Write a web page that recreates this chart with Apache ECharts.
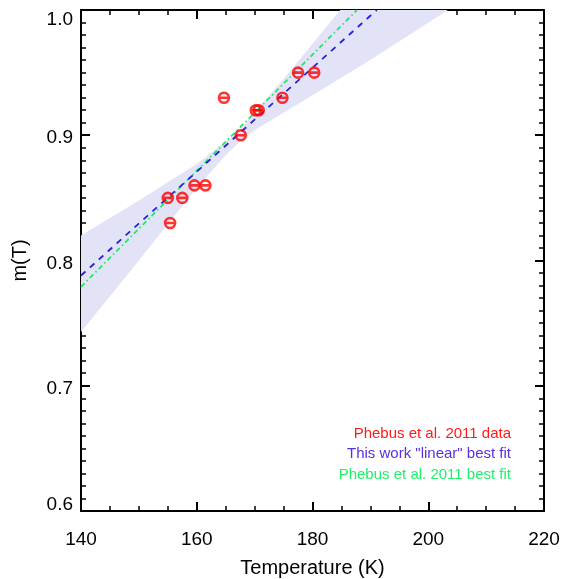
<!DOCTYPE html>
<html>
<head>
<meta charset="utf-8">
<script src="https://cdn.jsdelivr.net/npm/echarts@6/dist/echarts.min.js"></script>
<style>
  html, body { margin: 0; padding: 0; background: #fff; }
  #chart { width: 563px; height: 579px; }
</style>
</head>
<body>
<div id="chart"></div>
<script>
// measured points (Phebus et al. 2011)
const tempK = [155.0, 155.4, 157.5, 159.6, 161.5, 164.7, 167.6, 170.2, 170.7, 174.8, 177.5, 180.3];
const mValues = [0.85, 0.83, 0.85, 0.86, 0.86, 0.93, 0.90, 0.92, 0.92, 0.93, 0.95, 0.95];

// best-fit lines, end points
const linearFit = [[140, 0.788], [191.1, 1.0]];
const phebusFit = [[140, 0.779], [187.7, 1.0]];

// uncertainty band of the linear fit
const bandUpperT = [140, 150, 160, 165, 167, 170, 175, 180, 184.8];
const bandUpper = [0.820, 0.848, 0.877, 0.895, 0.902, 0.918, 0.945, 0.973, 1.0];
const bandLowerT = [140, 150, 160, 165, 167, 170, 175, 180, 190, 203.4];
const bandLower = [0.743, 0.800, 0.858, 0.884, 0.893, 0.904, 0.918, 0.932, 0.960, 1.0];

const xTicks = [140, 160, 180, 200, 220];
const yTicks = [0.6, 0.7, 0.8, 0.9, 1.0];

const legendItems = [
  { text: 'Phebus et al. 2011 data', color: '#ff1a1a' },
  { text: 'This work "linear" best fit', color: '#5a2fe0' },
  { text: 'Phebus et al. 2011 best fit', color: '#22f06a' }
];

const font = 'Liberation Sans, Arial, Helvetica, sans-serif';
const axisCol = '#000';

const chart = echarts.init(document.getElementById('chart'));

function tickAxis(extra) {
  return Object.assign({
    type: 'value',
    axisLine: { show: true, onZero: false, lineStyle: { color: axisCol, width: 2 } },
    axisTick: { show: true, inside: true, length: 9, lineStyle: { color: axisCol, width: 2 } },
    splitLine: { show: false },
    minorSplitLine: { show: false }
  }, extra);
}

// the end labels sit a little inside the frame, the others a touch low
function yLabel(v) {
  const s = v.toFixed(1);
  if (Math.abs(v - yTicks[yTicks.length - 1]) < 1e-6) return '{top|' + s + '}';
  if (Math.abs(v - yTicks[0]) < 1e-6) return '{bot|' + s + '}';
  return '{mid|' + s + '}';
}

const option = {
  animation: false,
  backgroundColor: '#fff',
  grid: { left: 81, right: 19, top: 10, bottom: 68, outerBoundsMode: 'none', containLabel: false },
  xAxis: [
    tickAxis({
      min: xTicks[0], max: xTicks[xTicks.length - 1], interval: 20,
      minorTick: { show: true, splitNumber: 4, length: 5, lineStyle: { color: axisCol, width: 1.5 } },
      name: 'Temperature (K)', nameLocation: 'middle', nameGap: 47,
      nameTextStyle: { fontFamily: font, fontSize: 20, color: '#000' },
      axisLabel: { fontFamily: font, fontSize: 19, color: '#000', margin: 19 }
    }),
    tickAxis({
      position: 'top',
      min: xTicks[0], max: xTicks[xTicks.length - 1], interval: 20,
      minorTick: { show: true, splitNumber: 4, length: 5, lineStyle: { color: axisCol, width: 1.5 } },
      axisLabel: { show: false }
    })
  ],
  yAxis: [
    tickAxis({
      min: yTicks[0], max: yTicks[yTicks.length - 1], interval: 0.1,
      minorTick: { show: true, splitNumber: 10, length: 5, lineStyle: { color: axisCol, width: 1.5 } },
      name: 'm(T)', nameLocation: 'middle', nameGap: 51,
      nameTextStyle: { fontFamily: font, fontSize: 20, color: '#000' },
      axisLabel: {
        fontFamily: font, fontSize: 19, color: '#000', margin: 8,
        formatter: yLabel,
        rich: {
          top: { fontFamily: font, fontSize: 19, color: '#000', padding: [20, 0, 0, 0] },
          mid: { fontFamily: font, fontSize: 19, color: '#000', padding: [6, 0, 0, 0] },
          bot: { fontFamily: font, fontSize: 19, color: '#000', padding: [0, 0, 12, 0] }
        }
      }
    }),
    tickAxis({
      position: 'right',
      min: yTicks[0], max: yTicks[yTicks.length - 1], interval: 0.1,
      minorTick: { show: true, splitNumber: 10, length: 5, lineStyle: { color: axisCol, width: 1.5 } },
      axisLabel: { show: false }
    })
  ],
  graphic: legendItems.map((it, i) => ({
    type: 'text',
    right: 52,
    top: 426 + i * 20.7,
    style: { text: it.text, fill: it.color, font: '15px ' + font, textAlign: 'right' }
  })),
  series: [
    {
      type: 'custom',
      silent: true,
      z: 1,
      data: [0],
      renderItem: function (params, api) {
        const pts = [];
        for (let i = 0; i < bandUpperT.length; i++) pts.push(api.coord([bandUpperT[i], bandUpper[i]]));
        for (let i = bandLowerT.length - 1; i >= 0; i--) pts.push(api.coord([bandLowerT[i], bandLower[i]]));
        return {
          type: 'polygon',
          shape: { points: pts },
          style: { fill: '#e3e3f8', stroke: null }
        };
      }
    },
    {
      type: 'line',
      data: phebusFit,
      z: 3,
      symbol: 'none',
      lineStyle: { color: '#22e86a', width: 1.8, type: [5, 3, 1.5, 3] }
    },
    {
      type: 'line',
      data: linearFit,
      z: 4,
      symbol: 'none',
      lineStyle: { color: '#2222e0', width: 1.8, type: [6, 6] }
    },
    {
      type: 'scatter',
      z: 5,
      data: tempK.map((t, i) => [t, mValues[i]]),
      symbol: 'path://M0,5 A5,5 0 1,1 10,5 A5,5 0 1,1 0,5 Z M1,5 L9,5',
      symbolSize: 10,
      itemStyle: { color: 'rgba(255,255,255,0)', borderColor: '#ff0000', borderWidth: 2.6 }
    }
  ]
};

chart.setOption(option);
</script>
</body>
</html>
